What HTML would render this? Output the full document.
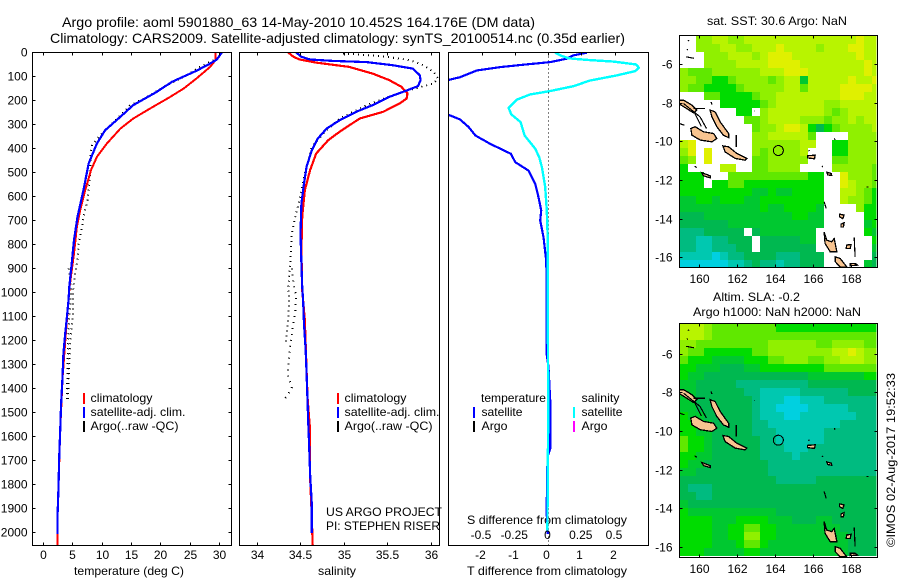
<!DOCTYPE html>
<html>
<head>
<meta charset="utf-8">
<title>Argo profile</title>
<style>
html,body{margin:0;padding:0;background:#fff;}
svg{display:block;}
text{font-family:"Liberation Sans",sans-serif;font-size:12px;fill:#000;}
.ttl{font-size:14px;}
</style>
</head>
<body>
<svg id="fig" width="900" height="580" viewBox="0 0 900 580" xmlns="http://www.w3.org/2000/svg" shape-rendering="crispEdges">
<defs>
<clipPath id="clipA"><rect x="33" y="53" width="198" height="492"/></clipPath>
<clipPath id="clipB"><rect x="240" y="53" width="199" height="492"/></clipPath>
<clipPath id="clipC"><rect x="449" y="53" width="199" height="492"/></clipPath>
<clipPath id="clipM1"><rect x="680" y="36" width="196.5" height="231"/></clipPath>
<clipPath id="clipM2"><rect x="680" y="324" width="196.5" height="233"/></clipPath>
</defs>
<text class="ttl" x="62" y="27" textLength="473" lengthAdjust="spacingAndGlyphs">Argo profile: aoml 5901880_63 14-May-2010 10.452S 164.176E (DM data)</text>
<text class="ttl" x="50" y="43" textLength="575" lengthAdjust="spacingAndGlyphs">Climatology: CARS2009. Satellite-adjusted climatology: synTS_20100514.nc (0.35d earlier)</text>

<text x="74" y="575" textLength="110" lengthAdjust="spacingAndGlyphs">temperature (deg C)</text>
<text x="318" y="575" textLength="38" lengthAdjust="spacingAndGlyphs">salinity</text>
<text x="467" y="575" textLength="160" lengthAdjust="spacingAndGlyphs">T difference from climatology</text>
<text x="467" y="524" textLength="160" lengthAdjust="spacingAndGlyphs">S difference from climatology</text>

<g>
<rect x="83" y="393" width="2" height="11" fill="#ff0000"/>
<rect x="83" y="407" width="2" height="11" fill="#0000ff"/>
<rect x="83" y="421" width="2" height="11" fill="#000"/>
<text x="90.5" y="402" textLength="62" lengthAdjust="spacingAndGlyphs">climatology</text>
<text x="90.5" y="416" textLength="95" lengthAdjust="spacingAndGlyphs">satellite-adj. clim.</text>
<text x="90.5" y="430" textLength="88" lengthAdjust="spacingAndGlyphs">Argo(..raw -QC)</text>
</g>
<g>
<rect x="337" y="393" width="2" height="11" fill="#ff0000"/>
<rect x="337" y="407" width="2" height="11" fill="#0000ff"/>
<rect x="337" y="421" width="2" height="11" fill="#000"/>
<text x="344.5" y="402" textLength="62" lengthAdjust="spacingAndGlyphs">climatology</text>
<text x="344.5" y="416" textLength="95" lengthAdjust="spacingAndGlyphs">satellite-adj. clim.</text>
<text x="344.5" y="430" textLength="88" lengthAdjust="spacingAndGlyphs">Argo(..raw -QC)</text>
</g>
<g>
<text x="481" y="402" textLength="65" lengthAdjust="spacingAndGlyphs">temperature</text>
<text x="581.5" y="402" textLength="38" lengthAdjust="spacingAndGlyphs">salinity</text>
<rect x="473" y="407" width="2" height="11" fill="#0000ff"/>
<rect x="473" y="421" width="2" height="11" fill="#000"/>
<rect x="573" y="407" width="2" height="11" fill="#00ffff"/>
<rect x="573" y="421" width="2" height="11" fill="#ff00ff"/>
<text x="481.5" y="416" textLength="41" lengthAdjust="spacingAndGlyphs">satellite</text>
<text x="481.5" y="430" textLength="26" lengthAdjust="spacingAndGlyphs">Argo</text>
<text x="581.5" y="416" textLength="41" lengthAdjust="spacingAndGlyphs">satellite</text>
<text x="581.5" y="430" textLength="26" lengthAdjust="spacingAndGlyphs">Argo</text>
</g>
<text x="326" y="516" textLength="116" lengthAdjust="spacingAndGlyphs">US ARGO PROJECT</text>
<text x="326" y="530" textLength="114" lengthAdjust="spacingAndGlyphs">PI: STEPHEN RISER</text>

<text x="707" y="25" textLength="140" lengthAdjust="spacingAndGlyphs">sat. SST: 30.6 Argo: NaN</text>
<text x="713" y="301" textLength="87" lengthAdjust="spacingAndGlyphs">Altim. SLA: -0.2</text>
<text x="693" y="316" textLength="168" lengthAdjust="spacingAndGlyphs">Argo h1000: NaN h2000: NaN</text>
<text transform="translate(895 547) rotate(-90)" x="0" y="0" textLength="174" lengthAdjust="spacingAndGlyphs">©IMOS 02-Aug-2017 19:52:33</text>
</svg>

<script>
// ---------- axis tick labels ----------
const depthTicks = [0,100,200,300,400,500,600,700,800,900,1000,1100,1200,1300,1400,1500,1600,1700,1800,1900,2000];
const tempTicks = [0,5,10,15,20,25,30];
const salTicks = [34,34.5,35,35.5,36];
const dTempTicks = [-2,-1,0,1,2];
const dSalTicks = [-0.5,-0.25,0,0.25,0.5];
const lonTicks = [160,162,164,166,168];
const latTicks = [-6,-8,-10,-12,-14,-16];

// ---------- temperature profiles ----------
const tempSatDepth = [0,30,50,76,122,164,219,268,324,379,462,574,685,782,879,976,1033,1103,1172,1256,1353,1464,1575,1686,1811,1936,2006];
const tempSatValue = [30.4,29.5,28.1,26.1,21.9,19.3,15.3,13.1,10.5,9.1,7.7,6.8,5.8,5.2,4.8,4.4,4.26,3.98,3.7,3.4,3.24,3.0,2.84,2.67,2.56,2.39,2.39];
const tempClimDepth = [0,32,60,108,150,185,233,275,317,379,435,490,574,657,726,837,976,1172,1353,1575,1811,1936,2053];
const tempClimValue = [29.3,29.3,28.4,26.1,23.9,21.6,18.2,15.3,13.1,10.8,9.1,8.1,7.1,6.25,5.7,5.2,4.45,3.8,3.25,2.85,2.55,2.4,2.4];
const tempArgoDepth = [32,67,81,115,143,178,219,303,344,386,421,504,560,615,685,740,796,865,920,976,1019,1103,1172,1270,1380,1443];
const tempArgoValue = [29,26.1,25.4,22.8,20.5,18.2,14.8,11.4,9.7,8.3,8.0,8.0,7.7,7.5,6.8,6.5,6.0,5.8,5.4,5.1,5.0,5.0,4.66,4.43,4.26,4.15];
const tempRawDepth = [900,976,1040,1100,1200,1300,1443];
const tempRawValue = [4.3,4.7,4.6,4.4,4.2,4.1,3.98];

// ---------- salinity profiles ----------
const salSatDepth = [0,18,29,35,40,53,67,94,115,140,157,185,219,247,282,317,358,407,476,546,629,754,879,976,1033,1131,1242,1339,1450,1547,1644,1756,1881,2003];
const salSatValue = [34.45,34.51,34.61,34.87,35.26,35.56,35.79,35.87,35.88,35.85,35.73,35.52,35.33,35.14,34.95,34.8,34.7,34.63,34.57,34.54,34.51,34.5,34.51,34.52,34.53,34.54,34.56,34.57,34.58,34.59,34.6,34.61,34.63,34.63];
const salClimDepth = [0,18,29,42,60,88,115,143,171,192,212,247,275,330,365,421,490,574,685,824,990,1113,1436,1575,1769,1936,2056];
const salClimValue = [34.36,34.42,34.49,34.68,35.06,35.33,35.52,35.66,35.73,35.72,35.64,35.45,35.18,34.95,34.82,34.68,34.61,34.55,34.52,34.51,34.52,34.55,34.58,34.61,34.61,34.63,34.64];
const salArgoDepth = [4,11,18,32,53,81,108,129,143,160,188,219,275,331,393,504,574,615,685,754,893,976,1019,1103,1172,1214];
const salArgoValue = [34.99,35.26,35.49,35.76,35.91,36.03,36.08,36.03,35.89,35.72,35.49,35.26,34.95,34.78,34.63,34.55,34.51,34.49,34.44,34.4,34.38,34.36,34.37,34.36,34.34,34.33];
const salRawDepth = [900,960,1019,1075,1144,1228,1339,1394,1430,1445];
const salRawValue = [34.4,34.42,34.45,34.44,34.41,34.38,34.35,34.4,34.35,34.31];

// ---------- differences from climatology ----------
const dTempDepth = [1,12,26,40,51,61,75,103,114,180,260,279,311,346,381,422,457,492,547,603,658,700,769,867,978,1033,1172,1252,1311,1450,1650,1686,1867,1929,2006];
const dTempValue = [1.15,0.75,0.55,0.05,-0.75,-1.45,-2.16,-2.66,-3,-4,-3,-2.66,-2.4,-2.2,-1.75,-1.13,-1,-0.6,-0.4,-0.3,-0.22,-0.25,-0.15,-0.07,-0.05,-0.06,-0.06,-0.06,0,0.05,0.05,-0.03,-0.05,-0.05,-0.02];
const dSalDepth = [1,12,24,31,38,50,64,78,96,117,140,161,175,197,231,258,290,346,401,436,478,561,658,783,1033,1500,1992];
const dSalValue = [0.05,0.09,0.15,0.29,0.49,0.66,0.68,0.65,0.51,0.31,0.19,0.01,-0.14,-0.24,-0.3,-0.28,-0.21,-0.18,-0.1,-0.07,-0.05,-0.025,-0.013,-0.005,-0.005,-0.002,-0.008];

// ---------- map values: colour level per cell, N = no data ----------
const N = null;
const sstGrid = [
[N,N,7,7,8,8,7,7,8,8,8,8,8,8,8,8,8,8,8,8,8,8,9,8,8],
[N,N,7,7,7,8,8,7,7,8,8,8,9,8,8,8,8,7,8,8,8,9,9,8,8],
[N,N,N,7,7,7,8,8,8,7,8,9,9,9,8,8,8,8,8,8,8,8,9,8,8],
[N,N,N,7,7,7,7,8,8,8,8,9,9,9,9,8,8,8,8,8,8,8,8,9,8],
[7,6,6,6,7,7,7,7,7,7,8,8,8,9,9,9,8,8,8,8,8,8,8,9,8],
[7,7,6,6,5,5,6,7,7,7,7,6,7,8,8,4,8,8,8,8,8,9,8,8,9],
[7,6,6,5,5,5,5,6,7,7,7,7,7,8,8,6,8,8,8,8,9,9,9,9,8],
[N,N,N,6,6,5,5,5,5,6,7,7,8,8,8,8,8,8,8,8,9,9,9,8,8],
[N,N,N,N,N,5,5,5,5,5,6,7,8,8,8,8,8,8,7,7,8,8,8,8,8],
[N,N,N,N,N,N,N,5,5,N,7,8,8,8,8,8,8,8,7,6,7,8,8,8,8],
[N,N,N,N,N,N,N,N,6,6,7,8,8,8,8,7,7,7,6,7,7,8,7,8,8],
[N,N,N,N,N,N,N,N,N,6,7,7,8,9,9,8,5,3,5,6,7,7,7,7,8],
[N,N,N,N,N,N,N,N,N,7,7,8,8,8,8,8,6,N,N,N,N,7,7,7,7],
[8,9,N,N,N,N,N,N,N,7,7,7,7,7,7,8,8,N,N,5,5,7,7,7,7],
[7,9,N,9,N,N,N,N,N,7,6,7,7,7,7,8,N,N,N,5,5,7,7,7,7],
[6,7,N,9,N,N,N,N,N,6,6,7,7,7,7,7,N,N,N,6,6,7,7,7,7],
[5,N,N,N,N,8,8,N,N,6,6,7,7,7,7,N,N,N,N,7,7,7,7,7,6],
[5,5,5,N,N,N,6,6,6,6,6,6,6,6,6,6,5,5,N,N,9,7,7,7,6],
[5,5,5,N,5,5,6,6,5,5,5,5,5,5,5,5,5,5,N,N,9,8,7,7,6],
[5,5,5,5,5,5,5,5,5,4,4,5,4,4,5,5,5,5,N,N,8,8,7,6,5],
[4,4,5,5,4,5,5,5,4,4,5,5,5,5,5,5,5,5,N,N,8,7,7,6,5],
[4,4,4,4,4,4,4,4,4,4,5,4,4,5,5,5,5,4,N,N,N,N,7,5,5],
[3,3,3,4,4,4,4,4,4,4,4,4,4,4,5,5,4,4,N,N,N,N,N,5,5],
[3,3,3,3,3,3,4,4,4,4,4,4,4,4,4,4,4,4,N,N,N,N,N,4,5],
[2,2,2,3,3,3,3,3,N,3,4,4,4,4,4,4,4,N,N,N,N,N,N,5,4],
[2,2,1,1,2,2,3,3,3,N,3,3,3,3,3,4,4,N,N,N,N,N,N,N,5],
[2,2,1,1,2,2,2,3,3,N,3,3,3,3,3,3,3,N,N,N,N,N,N,N,4],
[1,1,1,1,0,1,2,2,3,3,3,3,2,2,2,3,3,3,N,N,N,N,N,N,3],
[0,0,0,0,0,0,1,1,2,3,2,2,1,2,2,3,3,3,N,N,N,N,N,4,3]
];
const slaGrid = [
[8,8,8,7,6,6,6,6,6,6,6,6,5,5,5,5,5,5,5,5,5,5,5,5,5],
[8,8,8,7,6,6,6,6,6,6,6,6,6,6,6,6,6,6,6,6,6,6,6,6,6],
[7,7,6,6,6,6,6,6,6,6,6,7,7,7,7,7,7,6,6,7,7,7,7,6,6],
[7,6,6,5,5,5,5,5,5,6,6,7,7,7,7,7,7,7,7,8,8,9,8,7,7],
[6,5,5,5,4,4,4,4,5,5,5,6,6,7,7,7,6,6,7,7,8,8,8,7,7],
[5,5,4,4,4,3,3,3,4,4,5,5,5,5,5,5,5,5,6,6,6,6,6,6,6],
[5,4,4,3,3,3,3,3,3,3,3,3,3,3,3,3,4,4,4,4,4,4,4,5,5],
[4,4,3,3,3,3,3,2,2,2,2,2,2,2,2,2,3,3,3,3,3,3,3,3,3],
[4,4,3,3,3,3,3,3,2,2,1,1,1,1,1,2,2,2,2,2,2,3,3,3,3],
[4,4,3,3,3,3,3,3,3,2,1,1,1,0,0,1,1,1,2,2,2,2,2,2,2],
[4,4,3,3,3,3,3,3,3,2,1,1,0,0,0,0,1,1,1,1,1,2,2,2,2],
[5,4,4,3,3,3,3,3,3,2,1,1,1,0,0,1,1,1,1,1,1,1,2,2,2],
[5,5,4,4,3,3,3,3,3,2,2,1,1,1,1,1,1,1,1,1,2,2,2,2,2],
[5,5,4,4,3,3,3,3,3,2,2,2,1,1,1,1,1,1,2,2,2,2,2,2,2],
[6,5,5,4,3,3,3,3,3,3,2,2,1,1,1,1,1,1,2,2,2,2,2,2,2],
[6,5,5,4,3,3,3,3,3,3,2,2,2,1,1,1,2,2,2,2,2,2,2,2,2],
[5,5,4,4,3,3,3,3,3,3,2,2,2,2,1,2,2,2,2,2,2,2,2,2,2],
[5,4,4,3,3,3,3,3,3,3,3,2,2,2,2,2,2,2,2,2,2,2,2,2,2],
[4,4,3,3,3,3,3,3,3,3,3,2,2,2,2,2,2,2,2,2,2,2,2,2,2],
[3,3,3,3,3,3,3,3,3,3,3,3,2,2,2,2,2,3,3,3,3,3,3,3,3],
[3,2,2,2,3,3,3,3,3,3,3,3,3,3,3,3,3,3,3,3,3,3,3,3,3],
[3,3,2,2,3,3,3,3,3,3,3,3,3,3,3,3,3,3,3,3,3,3,3,3,3],
[4,3,3,3,3,3,3,3,3,3,3,3,3,3,3,3,3,3,3,3,3,3,3,3,3],
[5,4,4,4,4,4,4,4,4,4,4,4,3,3,3,3,3,3,3,3,3,3,3,3,3],
[5,5,5,5,4,4,4,5,5,5,5,4,4,4,3,3,3,4,4,3,3,3,3,3,3],
[5,5,5,5,4,4,5,5,6,6,5,5,4,4,4,4,4,4,4,4,3,3,3,3,3],
[5,5,5,5,4,4,5,5,7,7,5,5,4,4,4,4,4,4,4,4,4,3,3,3,3],
[5,5,5,5,4,4,4,5,6,6,5,4,4,4,4,4,4,4,4,4,4,3,3,3,3],
[5,5,5,4,4,4,4,4,5,5,4,4,4,4,4,4,4,4,4,4,4,3,3,3,3]
];

// ---------- coastlines, lon/lat pairs ----------
const islandShapes = [
[[158.95,-7.84],[159.16,-7.84],[159.6,-8.1],[159.86,-8.36],[159.68,-8.5],[159.33,-8.28],[158.95,-8.05]],
[[160.56,-8.36],[160.82,-8.45],[161.09,-8.97],[161.53,-9.57],[161.53,-9.78],[161.26,-9.66],[160.91,-9.22],[160.65,-8.71]],
[[159.54,-9.31],[159.77,-9.22],[160.21,-9.48],[160.74,-9.57],[160.91,-9.83],[160.65,-10.0],[160.04,-9.91],[159.6,-9.66]],
[[161.23,-10.21],[161.53,-10.26],[161.96,-10.6],[162.49,-10.86],[162.4,-10.95],[161.88,-10.86],[161.35,-10.52]],
[[160.12,-11.6],[160.56,-11.76],[160.56,-11.86],[160.21,-11.76]],
[[166.56,-14.66],[166.7,-15.09],[166.96,-15.17],[167.09,-15.0],[167.23,-15.69],[166.88,-15.69],[166.61,-15.26]],
[[167.14,-15.95],[167.4,-16.03],[167.75,-16.47],[167.4,-16.47],[167.14,-16.2]],
[[167.75,-15.34],[167.98,-15.31],[167.93,-15.52],[167.72,-15.52]],
[[167.93,-16.29],[168.19,-16.29],[168.32,-16.38],[167.93,-16.41]],
[[167.37,-13.74],[167.61,-13.79],[167.54,-13.97],[167.37,-13.88]],
[[167.44,-14.26],[167.61,-14.19],[167.58,-14.4],[167.44,-14.4]],
[[165.68,-10.72],[166.09,-10.69],[166.05,-10.88],[165.68,-10.83]],
[[166.7,-11.57],[166.93,-11.64],[166.96,-11.74],[166.75,-11.71]]
];
const reefLines = [
[[161.93,-9.66],[161.93,-10.26]],
[[166.56,-13.1],[166.67,-13.45]],
[[168.14,-14.95],[168.19,-15.95]],
[[158.95,-9.05],[159.2,-9.14]],
[[159.16,-8.02],[160.03,-8.71],[160.37,-9.31]],
[[159.68,-8.28],[160.3,-8.28]],
[[159.74,-8.5],[160.1,-9.2]],
[[160.61,-7.93],[160.65,-8.07]],
[[162.88,-8.4],[162.9,-8.42]],
[[167.09,-9.83],[167.14,-9.9]],
[[165.74,-10.43],[165.78,-10.48]],
[[166.44,-11.26],[166.5,-11.3]],
[[168.8,-12.33],[168.9,-12.33]],
[[159.4,-4.75],[159.46,-4.8]],
[[159.35,-5.2],[159.38,-5.25]],
[[159.3,-5.6],[159.7,-5.68]],
[[159.74,-11.26],[159.86,-11.33]]
];
const floatLon = 164.15;
const floatLat = -10.45;

// ---------- axis functions ----------
const yD = d => 52.5 + 0.24 * d;
const xT = v => 43.5 + 5.867 * v;
const xS = v => 257 + 87 * (v - 34);
const xDT = v => 548.5 + 33.25 * v;
const xDS = v => 548.5 + 133 * v;
const mapX = lon => 699.5 + 19 * (lon - 160);
const map1Y = lat => 64.5 + 19.33 * (-6 - lat);
const map2Y = lat => 354 + 19.37 * (-6 - lat);
const snap = v => Math.floor(v) + 0.5;

const palette = ['#00d0e0','#00c8b0','#00bb80','#00b850','#00c830','#00dc00','#60e800','#90f000','#b8f400','#e0f000'];
const fig = document.getElementById('fig');
const NS = 'http://www.w3.org/2000/svg';

function mk(tag, attrs, parent) {
  const e = document.createElementNS(NS, tag);
  for (const k in attrs) e.setAttribute(k, attrs[k]);
  (parent || fig).appendChild(e);
  return e;
}
function seg(x1, y1, x2, y2, parent) {
  const l = mk('line', {x1, y1, x2, y2, stroke: '#000', 'stroke-width': 1}, parent);
  
  
  return l;
}
function tickLabel(str, x, y, anchor) {
  const t = mk('text', {x, y, 'text-anchor': anchor});
  t.textContent = str;
  
  
  return t;
}
function curve(name, depths, values, xf, color, width, clip, dash) {
  const pts = depths.map((d, i) => xf(values[i]).toFixed(1) + ',' + yD(d).toFixed(1)).join(' ');
  const attrs = {points: pts, fill: 'none', stroke: color, 'stroke-width': width, 'stroke-linejoin': 'round', 'clip-path': 'url(#' + clip + ')'};
  if (dash) attrs['stroke-dasharray'] = dash;
  const c = mk('polyline', attrs);
  
  
  return c;
}
function panelFrame(name, x1, x2, y1, y2) {
  const r = mk('rect', {x: x1, y: y1, width: x2 - x1, height: y2 - y1, fill: 'none', stroke: '#000', 'stroke-width': 1});
  
  
}

// ---------- profile panels ----------
const panelTop = 52.5, panelBot = 545.5;
curve('temperature-argo-raw', tempRawDepth, tempRawValue, xT, '#000', 2, 'clipA', '1 4');
curve('temperature-argo', tempArgoDepth, tempArgoValue, xT, '#000', 2, 'clipA', '1 4');
curve('temperature-climatology', tempClimDepth, tempClimValue, xT, '#ff0000', 2, 'clipA');
curve('temperature-satellite', tempSatDepth, tempSatValue, xT, '#0000ff', 2.2, 'clipA');
curve('salinity-argo-raw', salRawDepth, salRawValue, xS, '#000', 2, 'clipB', '1 5');
curve('salinity-argo', salArgoDepth, salArgoValue, xS, '#000', 2, 'clipB', '1 4');
curve('salinity-climatology', salClimDepth, salClimValue, xS, '#ff0000', 2.2, 'clipB');
curve('salinity-satellite', salSatDepth, salSatValue, xS, '#0000ff', 2.2, 'clipB');

const zeroLine = mk('line', {x1: xDT(0), y1: panelTop, x2: xDT(0), y2: panelBot, stroke: '#000', 'stroke-width': 1, 'stroke-dasharray': '1 3'});


curve('t-difference-satellite', dTempDepth, dTempValue, xDT, '#0000ff', 2.2, 'clipC');
curve('s-difference-satellite', dSalDepth, dSalValue, xDS, '#00ffff', 2.4, 'clipC');

panelFrame('temperature-panel-frame', 32.5, 231.5, panelTop, panelBot);
panelFrame('salinity-panel-frame', 239.5, 439.5, panelTop, panelBot);
panelFrame('difference-panel-frame', 448.5, 648.5, panelTop, panelBot);

depthTicks.forEach(d => {
  const y = snap(yD(d));
  seg(32.5, y, 35.5, y);
  seg(228.5, y, 231.5, y);
  tickLabel(String(d), 27.5, y + 4, 'end');
});
tempTicks.forEach(v => {
  const x = snap(xT(v));
  seg(x, panelTop, x, panelTop + 3);
  seg(x, panelBot, x, panelBot - 3);
  tickLabel(String(v), x, 559, 'middle');
});
salTicks.forEach(v => {
  const x = snap(xS(v));
  seg(x, panelTop, x, panelTop + 3);
  seg(x, panelBot, x, panelBot - 3);
  tickLabel(String(v), x, 559, 'middle');
});
dTempTicks.forEach(v => {
  const x = snap(xDT(v));
  seg(x, panelTop, x, panelTop + 3);
  tickLabel(String(v), x - 2, 559, 'middle');
});
dSalTicks.forEach(v => {
  const x = xDS(v);
  tickLabel(String(v), x - 1, 539, 'middle');
});

// ---------- maps ----------
function heatmap(name, grid, x0, y0, clip) {
  const g = mk('g', {'clip-path': 'url(#' + clip + ')'});
  
  
  grid.forEach((row, j) => row.forEach((v, i) => {
    if (v === null) return;
    const r = mk('rect', {x: x0 + 8 * i, y: y0 + 8 * j, width: 8, height: 8, fill: palette[v]}, g);
    
    
  }));
}
function coast(yf, clip) {
  const g = mk('g', {'clip-path': 'url(#' + clip + ')'});
  
  
  islandShapes.forEach(s => {
    const p = mk('polygon', {points: s.map(q => mapX(q[0]).toFixed(1) + ',' + yf(q[1]).toFixed(1)).join(' '), fill: '#f8c490', stroke: '#000', 'stroke-width': 1.3}, g);
    
    
  });
  reefLines.forEach(s => {
    const p = mk('polyline', {points: s.map(q => mapX(q[0]).toFixed(1) + ',' + yf(q[1]).toFixed(1)).join(' '), fill: 'none', stroke: '#000', 'stroke-width': 1.2}, g);
    
    
  });
}
function mapFurniture(frameName, y1, y2, yf, labelY) {
  const c = mk('circle', {cx: mapX(floatLon), cy: yf(floatLat), r: 5, fill: 'none', stroke: '#000', 'stroke-width': 1});
  
  
  panelFrame(frameName, 679.5, 877.5, y1, y2);
  lonTicks.forEach(v => {
    const x = snap(mapX(v));
    seg(x, y1, x, y1 + 3);
    seg(x, y2, x, y2 - 3);
    tickLabel(String(v), x, labelY, 'middle');
  });
  latTicks.forEach(v => {
    const y = snap(yf(v));
    seg(679.5, y, 682.5, y);
    seg(874.5, y, 877.5, y);
    tickLabel(String(v), 672.5, y + 4, 'end');
  });
}
heatmap('sst-heatmap', sstGrid, 680, 36, 'clipM1');
coast(map1Y, 'clipM1');
mapFurniture('sst-map-frame', 35.5, 267.5, map1Y, 283);
heatmap('sla-heatmap', slaGrid, 680, 324, 'clipM2');
coast(map2Y, 'clipM2');
mapFurniture('sla-map-frame', 323.5, 557.5, map2Y, 573);
</script>
</body>
</html>
